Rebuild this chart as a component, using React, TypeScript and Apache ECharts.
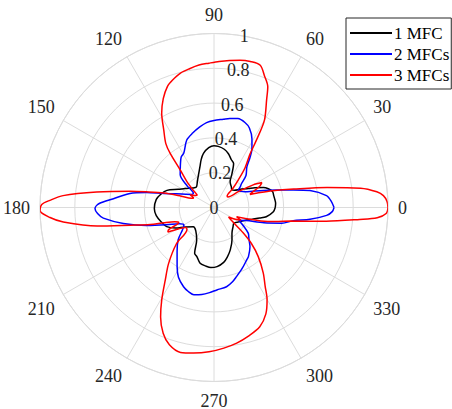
import React, { useEffect, useRef } from "react";
import * as echarts from "echarts";

// ---- data (angle in degrees, normalised radius) ----
const seriesNames = ["1 MFC", "2 MFCs", "3 MFCs"];
const seriesColors = ["#000000", "#0000ff", "#ff0000"];

const blackAngles = [0,4,7,11,15,19,22,26,29,35,40,45,50,55,58,62,66,70,75,80,86,90,95,101,105,109,115,122,130,135,141,147,153,160,166,172,181,188,195,202,208,214,223,232,242,247,251,256,262,267,273,280,285,291,299,305,315,322,330,337,343,347,350,356,360];
const blackR = [0.352,0.355,0.353,0.35,0.349,0.33,0.306,0.26,0.225,0.183,0.155,0.145,0.155,0.165,0.175,0.22,0.277,0.292,0.32,0.34,0.352,0.355,0.345,0.317,0.285,0.248,0.21,0.18,0.156,0.16,0.177,0.2,0.23,0.288,0.315,0.335,0.343,0.335,0.315,0.293,0.25,0.2,0.162,0.17,0.212,0.285,0.3,0.33,0.34,0.346,0.34,0.32,0.295,0.261,0.213,0.18,0.155,0.145,0.165,0.19,0.23,0.27,0.305,0.342,0.352];

const blueAngles = [0,3,6,10,12.5,15.5,19,23,27,31,35,38,41,45,51,54,57,61,66,70,75,80,84,90,95,100,106,112,119,123,127,132,136,141,145.5,150,155,160,164.5,167.5,170.5,175,178,180.5,183,185.5,190,195,200,205,210,215,222,230,238,243,249,253,257,262,267,272,279,284,288,295,302,305,312.5,318,323,328,333,338,343,347,350.5,353,356,358,360];
const blueR = [0.69,0.675,0.65,0.56,0.467,0.374,0.3,0.24,0.2,0.18,0.17,0.19,0.21,0.26,0.3,0.35,0.4,0.45,0.5,0.52,0.529,0.52,0.51,0.5,0.49,0.47,0.445,0.418,0.358,0.346,0.32,0.29,0.27,0.2,0.144,0.15,0.18,0.23,0.3,0.397,0.49,0.58,0.66,0.684,0.67,0.639,0.529,0.4,0.29,0.22,0.2,0.22,0.277,0.33,0.4,0.45,0.488,0.505,0.515,0.505,0.49,0.474,0.461,0.44,0.418,0.385,0.355,0.345,0.306,0.27,0.247,0.2,0.16,0.2,0.3,0.4,0.462,0.556,0.649,0.68,0.69];

const redAngles = [0,2,4,5.5,7.5,10,13,16,18,20,22,25,27.5,30,33,37,41,45,48.5,52,56,58,60,64,66,69,72,76,80,84,88,92,96,100,104,108,111,115,119,123,127,129,132,136,140,144,148,152,155,158,161,164,167,169,172.5,175.5,177.5,179,181,183.5,185.5,189,192,195,197,200,203,206,208,211,215,219,224,231,236,240.5,244,248,252,257,262,268,274,279.5,285,291,296,300,303,307,312,316,319,323,327,331,335,338,341,344,347,350,353,355.3,356.4,358,360];
const redR = [1.0,0.995,0.976,0.94,0.85,0.66,0.47,0.35,0.28,0.22,0.24,0.29,0.31,0.26,0.17,0.1,0.1,0.15,0.21,0.29,0.37,0.47,0.58,0.69,0.76,0.81,0.86,0.865,0.86,0.85,0.84,0.83,0.823,0.81,0.796,0.77,0.746,0.69,0.62,0.53,0.46,0.4,0.29,0.22,0.16,0.12,0.13,0.155,0.13,0.14,0.2,0.3,0.4,0.49,0.68,0.87,0.944,0.99,1.0,0.944,0.87,0.68,0.49,0.38,0.3,0.24,0.22,0.29,0.3,0.24,0.2,0.2,0.3,0.415,0.5,0.61,0.7,0.78,0.83,0.855,0.845,0.83,0.81,0.79,0.765,0.734,0.68,0.61,0.54,0.47,0.38,0.3,0.22,0.13,0.1,0.14,0.17,0.14,0.2,0.28,0.36,0.45,0.65,0.84,0.94,0.99,1.0];

const angleMin = 0;
const angleMax = 360;
const angleStep = 30;
const radiusMin = 0;
const radiusMax = 1;
const radiusStep = 0.2;

const FONT = "Liberation Serif";
const GRID = "#dcdcdc";
const TEXT = "#262626";

function pairs(angles: number[], radii: number[]) {
  return angles.map((a, i) => [radii[i], a]);
}

export default function App() {
  const ref = useRef<HTMLDivElement>(null);
  useEffect(() => {
    document.body.style.margin = "0";
    if (!ref.current) return;
    const chart = echarts.init(ref.current, null, { renderer: "svg" });
    const center = [214, 207.5];
    const radius = 174;
    const allAngles = [blackAngles, blueAngles, redAngles];
    const allR = [blackR, blueR, redR];
    chart.setOption({
      animation: false,
      backgroundColor: "#ffffff",
      textStyle: { fontFamily: FONT },
      polar: [
        { center, radius },
        { center, radius },
      ],
      angleAxis: [
        {
          polarIndex: 0,
          type: "value",
          min: angleMin,
          max: angleMax,
          interval: angleStep,
          startAngle: 0,
          clockwise: false,
          axisLine: { show: true, lineStyle: { color: GRID, width: 1 } },
          axisTick: { show: false },
          splitLine: { show: true, lineStyle: { color: GRID, width: 1 } },
          axisLabel: {
            show: true,
            margin: 10,
            color: TEXT,
            fontFamily: FONT,
            fontSize: 18,
            formatter: (v: number) => (v >= angleMax ? "" : String(v)),
          },
        },
        {
          polarIndex: 1,
          type: "value",
          min: angleMin,
          max: angleMax,
          interval: angleStep,
          startAngle: 80,
          clockwise: false,
          axisLine: { show: false },
          axisTick: { show: false },
          splitLine: { show: false },
          axisLabel: { show: false },
        },
      ],
      radiusAxis: [
        {
          polarIndex: 0,
          type: "value",
          min: radiusMin,
          max: radiusMax,
          interval: radiusStep,
          axisLine: { show: false },
          axisTick: { show: false },
          axisLabel: { show: false },
          splitLine: { show: true, lineStyle: { color: GRID, width: 1 } },
        },
        {
          polarIndex: 1,
          type: "value",
          min: radiusMin,
          max: radiusMax,
          interval: radiusStep,
          z: 10,
          axisLine: { show: false },
          axisTick: { show: false },
          splitLine: { show: false },
          axisLabel: {
            show: true,
            margin: 0,
            align: "center",
            verticalAlign: "middle",
            color: TEXT,
            fontFamily: FONT,
            fontSize: 18,
            formatter: (v: number) => String(Math.round(v * 10) / 10),
          },
        },
      ],
      legend: {
        orient: "vertical",
        left: 346,
        top: 18,
        padding: [6, 2, 5, 4],
        itemGap: 3,
        itemWidth: 42,
        itemHeight: 2,
        icon: "rect",
        backgroundColor: "#ffffff",
        borderColor: TEXT,
        borderWidth: 1,
        borderRadius: 0,
        textStyle: {
          fontFamily: FONT,
          fontSize: 17,
          lineHeight: 18,
          color: "#000000",
          padding: [0, 0, 0, -3],
        },
        data: seriesNames,
      },
      series: seriesNames.map((name, i) => ({
        name,
        type: "line",
        coordinateSystem: "polar",
        polarIndex: 0,
        symbol: "none",
        smooth: 0.3,
        clip: false,
        lineStyle: { color: seriesColors[i], width: 1.5 },
        itemStyle: { color: seriesColors[i] },
        data: pairs(allAngles[i], allR[i]),
      })),
    });
    return () => chart.dispose();
  }, []);
  return <div ref={ref} style={{ width: 452, height: 409 }} />;
}
